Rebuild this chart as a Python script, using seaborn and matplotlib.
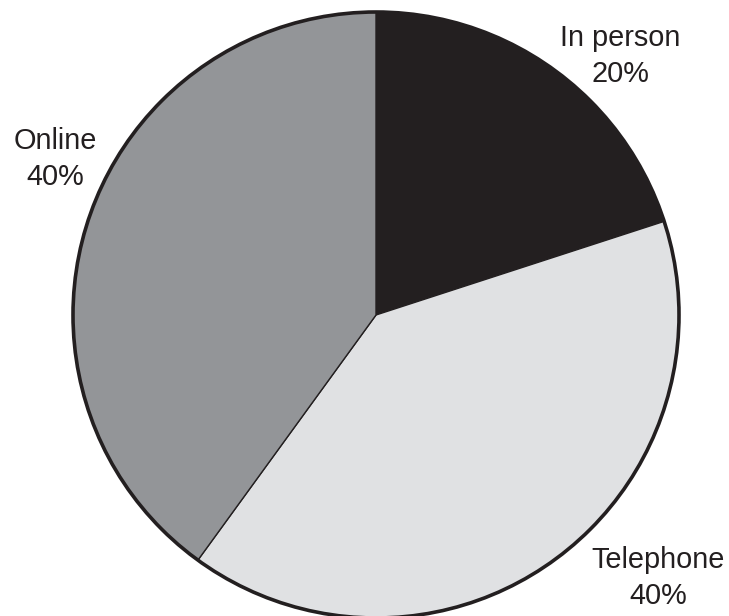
import matplotlib
matplotlib.use("Agg")
import matplotlib.pyplot as plt
import seaborn as sns

# share of contacts by channel
channels = ["In person", "Telephone", "Online"]
shares = [20, 40, 40]
colours = ["#231f20", "#e0e1e3", "#939598"]

# label anchor points (pixels in the 729x616 figure)
label_px = [(620, 56), (658, 578), (55, 159)]

sns.set_theme(style="white")
plt.rcParams["font.family"] = ["Liberation Sans", "DejaVu Sans"]

W, H = 729, 616
fig = plt.figure(figsize=(W / 100, H / 100), dpi=100)

# axes sized so the unit pie spans x 73..679 and top sits at y=12
r_px = 303
cx, cy = 376, 315
ax = fig.add_axes([(cx - r_px) / W, 1 - (cy + r_px) / H, 2 * r_px / W, 2 * r_px / H])

wedges, _ = ax.pie(shares, colors=colours, startangle=90, counterclock=False,
                   radius=1, center=(0, 0),
                   wedgeprops=dict(edgecolor="#231f20", linewidth=1.0, clip_on=False))
# thicker outer ring
ring = plt.Circle((0, 0), 1, fill=False, edgecolor="#231f20", linewidth=2.6, clip_on=False)
ax.add_patch(ring)
ax.set_xlim(-1, 1)
ax.set_ylim(-1, 1)
ax.set_aspect("equal")
ax.axis("off")

for name, val, (px, py) in zip(channels, shares, label_px):
    fig.text(px / W, 1 - py / H, f"{name}\n{val}%", ha="center", va="center",
             fontsize=20.8, color="#231f20", linespacing=1.4)

fig.savefig("out.png", dpi=100)
